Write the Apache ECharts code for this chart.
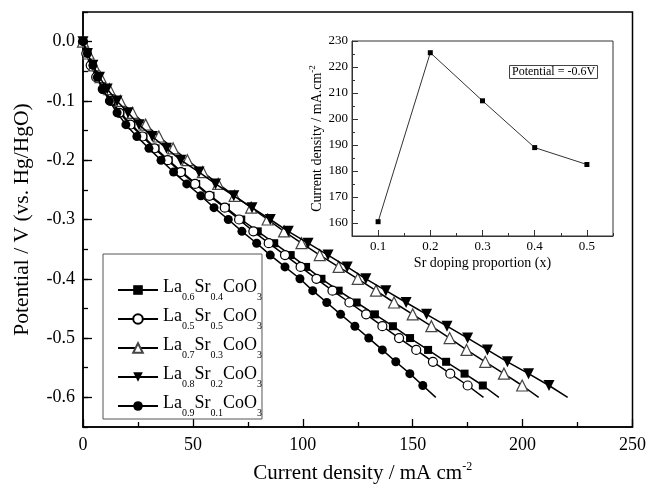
<!DOCTYPE html>
<html><head><meta charset="utf-8">
<script src="https://cdn.jsdelivr.net/npm/echarts@6/dist/echarts.min.js"></script>
<style>html,body{margin:0;padding:0;background:#fff}#c{width:649px;height:489px}</style>
</head><body><div id="c"></div>
<script>
// Potential (V vs Hg/HgO) at which each current was read
const potentials = [0.00,-0.02,-0.04,-0.06,-0.08,-0.10,-0.12,-0.14,-0.16,-0.18,-0.20,-0.22,-0.24,-0.26,-0.28,-0.30,-0.32,-0.34,-0.36,-0.38,-0.40,-0.42,-0.44,-0.46,-0.48,-0.50,-0.52,-0.54,-0.56,-0.58,-0.60];
// Current density (mA cm^-2) for each composition
const curLa06Sr04 = [0,2,4,6.5,9.5,13,17,22,27.5,33,39,45,51.5,58,65,72,79.5,87,94.5,101.5,108.5,116.3,124.5,132.8,141,148.8,157,165.2,173.6,181.9,189.2];
const curLa05Sr05 = [0,1.5,3.5,6,9,12.5,16.5,21.5,27,32.5,38.5,44.5,51,57.5,64.5,71,77.5,84.5,91.9,99,106.2,113.5,121.2,128.8,136.2,143.8,151.6,159.2,167.1,175,182.2];
const curLa07Sr03 = [0,2.5,5,8,12,17,22.5,28.5,34.5,41,47.5,54.5,61.5,69,76.5,84,91.5,99.4,107.7,116.3,125,133.3,141.5,150,158.5,166.8,174.5,183,191.5,199.8,207.3];
const curLa08Sr02 = [0,2,4.5,7.5,11,15.5,20.5,25.5,31.5,38,44.5,52.8,60.3,68.6,76.9,85.2,93.4,102.4,111.5,120.2,128.7,137.8,147,156.3,165.6,175,184,193.1,202.7,212,220.5];
const curLa09Sr01 = [0,2,4.5,6.5,9,12,15.5,19.5,24.5,30,35.5,41.2,47.2,53.6,59.6,66.1,72.3,79,85.2,91.9,98.7,104.5,110.9,117.2,123.7,130,136.2,142.3,148.7,154.6,160.5];
const seriesNames = ['La0.6Sr0.4CoO3','La0.5Sr0.5CoO3','La0.7Sr0.3CoO3','La0.8Sr0.2CoO3','La0.9Sr0.1CoO3'];
const legendParts = [['La','0.6','Sr','0.4','CoO','3'],['La','0.5','Sr','0.5','CoO','3'],['La','0.7','Sr','0.3','CoO','3'],['La','0.8','Sr','0.2','CoO','3'],['La','0.9','Sr','0.1','CoO','3']];
// Inset: current density at -0.6 V vs Sr doping proportion
const srDoping = [0.1,0.2,0.3,0.4,0.5];
const insetCurrent = [160.5,225.5,207,189,182.5];
const potentialNote = 'Potential = -0.6V';

const FONT = "'Liberation Serif','Times New Roman',serif";
const allCur = [curLa06Sr04,curLa05Sr05,curLa07Sr03,curLa08Sr02,curLa09Sr01];
const styles = [
  {symbol:'rect', symbolSize:8, itemStyle:{color:'#000'}},
  {symbol:'circle', symbolSize:9, itemStyle:{color:'#fff', borderColor:'#000', borderWidth:1.2}},
  {symbol:'triangle', symbolSize:11, itemStyle:{color:'#fff', borderColor:'#444', borderWidth:1.2}},
  {symbol:'triangle', symbolSize:11, symbolRotate:180, itemStyle:{color:'#000'}},
  {symbol:'circle', symbolSize:9, itemStyle:{color:'#000'}}
];
function mkData(cur){
  return cur.map((c,i)=> i===cur.length-1 ? {value:[c,potentials[i]], symbol:'none'} : [c,potentials[i]]);
}
const mainSeries = allCur.map((cur,k)=>Object.assign({
  name: seriesNames[k], type:'line', xAxisIndex:0, yAxisIndex:0,
  data: mkData(cur), lineStyle:{color:'#000', width:1.5}, z: 3+k
}, styles[k]));

const chart = echarts.init(document.getElementById('c'), null, {renderer:'canvas'});
const axCommon = {splitLine:{show:false}};
chart.setOption({
  animation:false,
  backgroundColor:'#fff',
  textStyle:{fontFamily:FONT, color:'#000'},
  title:{text:potentialNote, left:509, top:65, padding:[1,3,1,3], borderColor:'#444', borderWidth:1,
    textStyle:{fontFamily:FONT, fontSize:12, fontWeight:'normal', color:'#000'}},
  grid:[
    {left:83, right:12, top:12, bottom:55, show:true, borderColor:'#000', borderWidth:1.5},
    {left:352, right:36, top:41, bottom:253, show:true, borderColor:'#333', borderWidth:1}
  ],
  legend:{
    data: seriesNames, orient:'vertical', left:103, top:254, padding:[24,0,1,14], itemGap:5,
    itemWidth:40, itemHeight:12, borderColor:'#555', borderWidth:1,
    formatter: name => { const p = legendParts[seriesNames.indexOf(name)];
      return '{n|'+p[0]+'}{s|'+p[1]+'}{n|'+p[2]+'}{s|'+p[3]+'}{n|'+p[4]+'}{s|'+p[5]+'}'; },
    textStyle:{fontFamily:FONT, color:'#000', rich:{
      n:{fontFamily:FONT, fontSize:18, color:'#000', verticalAlign:'bottom', padding:[0,0,6,0]},
      s:{fontFamily:FONT, fontSize:10, color:'#000', verticalAlign:'bottom'}
    }}
  },
  xAxis:[
    Object.assign({gridIndex:0, type:'value', min:0, max:250, interval:50,
      axisLine:{onZero:false, lineStyle:{color:'#000', width:1.5}},
      axisTick:{inside:true, length:8, lineStyle:{color:'#000', width:1.3}},
      minorTick:{show:true, splitNumber:2, length:5, lineStyle:{color:'#000', width:1.3}},
      axisLabel:{fontFamily:FONT, fontSize:18, color:'#000', margin:9},
      name:'{n|Current density / mA cm}{p|-2}', nameLocation:'middle', nameGap:34,
      nameTextStyle:{padding:[0,0,0,10], rich:{
        n:{fontFamily:FONT, fontSize:21, color:'#000', verticalAlign:'bottom'},
        p:{fontFamily:FONT, fontSize:12, color:'#000', verticalAlign:'bottom', padding:[0,0,11,0]}
      }}
    }, axCommon),
    Object.assign({gridIndex:1, type:'value', min:0.05, max:0.55, splitNumber:5,
      axisLine:{onZero:false, lineStyle:{color:'#333', width:1}},
      axisTick:{inside:true, length:6, lineStyle:{color:'#333'}},
      axisLabel:{fontFamily:FONT, fontSize:13, color:'#000', margin:4, showMinLabel:false, showMaxLabel:false,
        formatter:v=>v.toFixed(1)},
      name:'Sr doping proportion (x)', nameLocation:'middle', nameGap:20,
      nameTextStyle:{fontFamily:FONT, fontSize:14, color:'#000'}
    }, axCommon),
    Object.assign({gridIndex:1, type:'value', position:'bottom', min:0.05, max:0.55, interval:0.05,
      axisLine:{show:false, onZero:false}, axisLabel:{show:false},
      axisTick:{inside:true, length:3, lineStyle:{color:'#333'}}
    }, axCommon)
  ],
  yAxis:[
    Object.assign({gridIndex:0, type:'value', min:-0.65, max:0.05, splitNumber:7,
      axisLine:{onZero:false, lineStyle:{color:'#000', width:1.5}},
      axisTick:{inside:true, length:9, lineStyle:{color:'#000', width:1.3}},
      axisLabel:{fontFamily:FONT, fontSize:18, color:'#000', margin:8, showMinLabel:false, showMaxLabel:false,
        formatter:v=>v.toFixed(1)},
      name:'Potential / V (vs. Hg/HgO)', nameLocation:'middle', nameGap:50,
      nameTextStyle:{fontFamily:FONT, fontSize:21.5, color:'#000'}
    }, axCommon),
    Object.assign({gridIndex:0, type:'value', position:'left', min:-0.65, max:0.05, interval:0.05,
      axisLine:{show:false, onZero:false}, axisLabel:{show:false},
      axisTick:{inside:true, length:5, lineStyle:{color:'#000', width:1.3}}
    }, axCommon),
    Object.assign({gridIndex:1, type:'value', min:155, max:230, splitNumber:7,
      axisLine:{onZero:false, lineStyle:{color:'#333', width:1}},
      axisTick:{inside:true, length:6, lineStyle:{color:'#333'}},
      axisLabel:{fontFamily:FONT, fontSize:13, color:'#000', margin:4, showMinLabel:false},
      name:'{n|Current density / mA.cm}{p|-2}', nameLocation:'middle', nameGap:27,
      nameTextStyle:{rich:{
        n:{fontFamily:FONT, fontSize:14, color:'#000', verticalAlign:'bottom'},
        p:{fontFamily:FONT, fontSize:9, color:'#000', verticalAlign:'bottom', padding:[0,0,7,0]}
      }}
    }, axCommon),
    Object.assign({gridIndex:1, type:'value', position:'left', min:155, max:230, interval:5,
      axisLine:{show:false, onZero:false}, axisLabel:{show:false},
      axisTick:{inside:true, length:3, lineStyle:{color:'#333'}}
    }, axCommon)
  ],
  series: mainSeries.concat([{
    name:'inset', type:'line', xAxisIndex:1, yAxisIndex:2,
    data: srDoping.map((x,i)=>[x, insetCurrent[i]]),
    symbol:'rect', symbolSize:5, itemStyle:{color:'#000'}, lineStyle:{color:'#333', width:1}
  }])
});
</script></body></html>
